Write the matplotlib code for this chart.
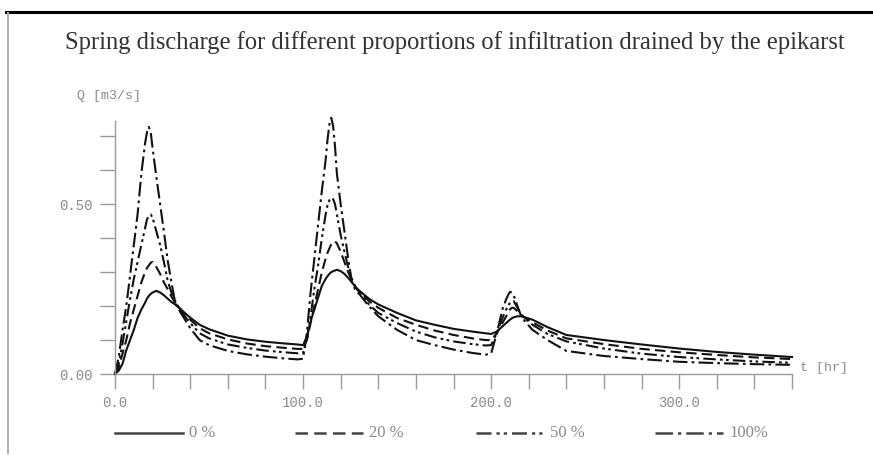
import numpy as np
import matplotlib.pyplot as plt
from matplotlib.lines import Line2D

# time axis [hr] shared by all four simulations
t = [0, 2, 4, 6, 8, 10, 12, 14, 16,
     17, 18, 19, 20,
     22, 24, 26, 28, 30, 32,
     35, 40, 45, 50,
     60, 70, 80, 90, 97,
     100, 102, 104, 106, 108, 110, 112,
     113, 114, 115, 116, 117, 118,
     120, 122, 124, 126, 128, 130,
     135, 140, 150, 160, 170, 180, 190, 197,
     200, 203, 206, 208, 209, 210, 211, 212,
     214, 216, 218, 222, 230, 240,
     260, 280, 300, 320, 340, 360]

# spring discharge Q [m3/s], one list per epikarst proportion
q_0 = [0, 0.01, 0.03, 0.07, 0.10, 0.13, 0.165, 0.19, 0.21,
       0.222, 0.23, 0.236, 0.24,
       0.245, 0.24, 0.232, 0.222, 0.212, 0.205,
       0.19, 0.166, 0.145, 0.132,
       0.113, 0.102, 0.095, 0.09, 0.087,
       0.085, 0.11, 0.155, 0.19, 0.225, 0.26, 0.28,
       0.288, 0.295, 0.3, 0.303, 0.305, 0.307,
       0.303, 0.295, 0.283, 0.27, 0.255, 0.245,
       0.222, 0.205, 0.18, 0.158, 0.145, 0.133, 0.125, 0.12,
       0.118, 0.125, 0.14, 0.15, 0.155, 0.16, 0.164, 0.167,
       0.17, 0.17, 0.167, 0.16, 0.138, 0.115,
       0.10, 0.087, 0.075, 0.065, 0.057, 0.05]
q_20 = [0, 0.02, 0.06, 0.10, 0.15, 0.19, 0.23, 0.27, 0.30,
        0.312, 0.32, 0.328, 0.33,
        0.315, 0.295, 0.27, 0.25, 0.228, 0.21,
        0.19, 0.16, 0.135, 0.12,
        0.102, 0.09, 0.082, 0.077, 0.074,
        0.074, 0.10, 0.15, 0.20, 0.25, 0.30, 0.34,
        0.357, 0.37, 0.382, 0.39, 0.39, 0.385,
        0.36, 0.33, 0.30, 0.275, 0.255, 0.243,
        0.215, 0.195, 0.165, 0.145, 0.128, 0.115, 0.105, 0.10,
        0.10, 0.12, 0.15, 0.17, 0.18, 0.19, 0.195, 0.195,
        0.185, 0.175, 0.165, 0.152, 0.128, 0.105,
        0.088, 0.074, 0.064, 0.056, 0.049, 0.044]
q_50 = [0, 0.03, 0.09, 0.155, 0.22, 0.28, 0.33, 0.38, 0.43,
        0.455, 0.468, 0.47, 0.46,
        0.42, 0.38, 0.33, 0.275, 0.24, 0.215,
        0.185, 0.15, 0.12, 0.105,
        0.087, 0.077, 0.069, 0.064, 0.061,
        0.062, 0.10, 0.17, 0.25, 0.32, 0.40, 0.47,
        0.497, 0.512, 0.52, 0.515, 0.50, 0.47,
        0.41, 0.36, 0.315, 0.28, 0.255, 0.24,
        0.205, 0.18, 0.15, 0.125, 0.108, 0.096, 0.088, 0.084,
        0.085, 0.12, 0.165, 0.19, 0.20, 0.21, 0.215, 0.215,
        0.195, 0.175, 0.163, 0.145, 0.118, 0.096,
        0.075, 0.06, 0.05, 0.043, 0.037, 0.033]
q_100 = [0, 0.05, 0.13, 0.20, 0.29, 0.38, 0.47, 0.59, 0.68,
         0.712, 0.728, 0.712, 0.665,
         0.58, 0.50, 0.42, 0.335, 0.27, 0.21,
         0.18, 0.135, 0.10, 0.085,
         0.068, 0.058, 0.051, 0.046, 0.043,
         0.045, 0.12, 0.24, 0.34, 0.44, 0.54, 0.63,
         0.69, 0.735, 0.755, 0.73, 0.67, 0.59,
         0.50, 0.42, 0.34, 0.27, 0.245, 0.235,
         0.20, 0.17, 0.13, 0.10, 0.085, 0.072, 0.062, 0.057,
         0.06, 0.12, 0.19, 0.22, 0.232, 0.242, 0.24, 0.232,
         0.20, 0.17, 0.155, 0.13, 0.10, 0.068,
         0.053, 0.044, 0.036, 0.032, 0.029, 0.027]

labels = ['0 %', '20 %', '50 %', '100%']
styles = ['-', (0, (5, 2.5)), (0, (6, 2, 1.3, 1.6, 1.3, 2)), (0, (7, 2, 1.3, 2))]
series = [q_0, q_20, q_50, q_100]

GRAY = '#9a9a9a'
TXT = '#8a8a8a'
mono = 'Liberation Mono'

fig = plt.figure(figsize=(8.73, 4.55), dpi=100)
ax = fig.add_axes([115/873, 1 - 374/455, (792-115)/873, (374-116)/455])

for q, ls in zip(series, styles):
    ax.plot(t, q, color='#111111', lw=1.5, linestyle=ls, clip_on=False)

ax.set_xlim(0, 360)
ax.set_ylim(0, 0.76)
ax.spines['left'].set_bounds(0, 0.745)
for s in ['top', 'right']:
    ax.spines[s].set_visible(False)
for s in ['left', 'bottom']:
    ax.spines[s].set_color(GRAY)
    ax.spines[s].set_linewidth(1.0)

ax.set_xticks([0, 100, 200, 300])
ax.set_xticklabels(['0.0', '100.0', '200.0', '300.0'])
ax.set_xticks(np.arange(0, 361, 20), minor=True)
ax.set_yticks([0, 0.5])
ax.set_yticklabels(['0.00', '0.50'])
ax.set_yticks(np.arange(0, 0.71, 0.1), minor=True)
ax.tick_params(which='both', direction='out', length=11, width=1.0,
               color=GRAY, labelcolor=TXT, labelsize=10, pad=5)
for lab in ax.get_xticklabels() + ax.get_yticklabels():
    lab.set_family(mono)

fig.text(77/873, 1 - 96/455, 'Q [m3/s]', family=mono, fontsize=9.5,
         color=TXT, va='center', ha='left')
fig.text(800/873, 1 - 368/455, 't [hr]', family=mono, fontsize=9.5,
         color=TXT, va='center', ha='left')

fig.text(455/873, 1 - 43/455,
         'Spring discharge for different proportions of infiltration drained by the epikarst',
         family='Liberation Serif', fontsize=17.7, color='#333333',
         ha='center', va='center')

# legend row under the axis
leg_x = [115, 295, 476, 655]
leg_y = 1 - 433/455
for x0, ls, lab in zip(leg_x, styles, labels):
    fig.add_artist(Line2D([x0/873, (x0 + 68)/873], [leg_y, leg_y],
                          color='#444444', lw=1.8, linestyle=ls))
    fig.text((x0 + 74)/873, leg_y, lab, family='Liberation Serif',
             fontsize=12, color=TXT, va='center', ha='left')

# page frame: heavy rule on top, thin gray line on the left
fig.add_artist(Line2D([6/873, 1], [1 - 12/455, 1 - 12/455], color='black', lw=2.2))
fig.add_artist(Line2D([8/873, 8/873], [1 - 13/455, 1 - 453/455], color='#b0b0b0', lw=1.5))

fig.savefig('out.png', dpi=100)
